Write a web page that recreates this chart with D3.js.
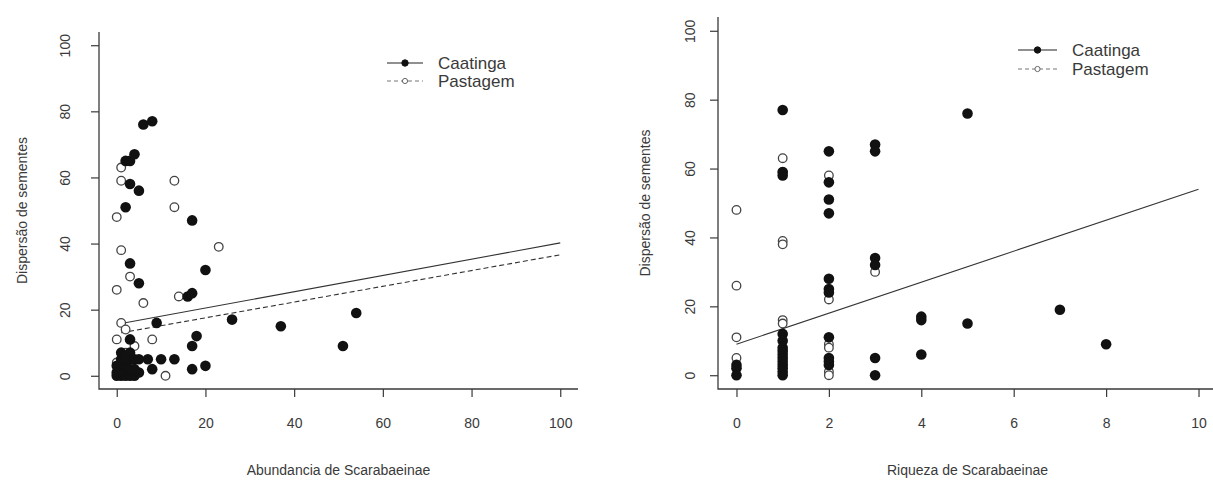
<!doctype html>
<html lang="pt">
<head>
  <meta charset="utf-8">
  <title>Dispersão de sementes</title>
  <script src="https://d3js.org/d3.v7.min.js"></script>
  <style>
    body { margin: 0; background: #fff; }
    text { font-family: "Liberation Sans", Arial, sans-serif; fill: #3a3a3a; }
  </style>
</head>
<body>
<svg width="1213" height="483"></svg>
<script>
// ---- data ----
// left panel: abundance vs seed dispersal
var abCaatX = [6, 8, 2, 3, 4, 3, 5, 2, 17, 3, 5, 20, 16, 17, 9, 26, 3, 18, 17, 7, 10, 13, 8, 17, 20, 37, 51, 54,
               0, 1, 2, 3, 4, 1, 2, 0, 1, 2, 3, 4, 5, 1, 2, 3, 3, 4, 5, 0];
var abCaatY = [76, 77, 65, 65, 67, 58, 56, 51, 47, 34, 28, 32, 24, 25, 16, 17, 11, 12, 9, 5, 5, 5, 2, 2, 3, 15, 9, 19,
               0, 0, 0, 0, 0, 2, 3, 3, 5, 5, 5, 5, 5, 7, 6, 7, 2, 2, 1, 1];
var abPastX = [1, 1, 13, 13, 0, 23, 1, 3, 0, 6, 14, 1, 2, 0, 8, 4, 11, 0, 2, 1];
var abPastY = [63, 59, 59, 51, 48, 39, 38, 30, 26, 22, 24, 16, 14, 11, 11, 9, 0, 4, 7, 2];
// right panel: richness vs seed dispersal
var riCaatX = [0, 0, 0,
               1, 1, 1, 1, 1, 1, 1, 1, 1, 1, 1, 1, 1, 1,
               2, 2, 2, 2, 2, 2, 2, 2, 2, 2, 2,
               3, 3, 3, 3, 3, 3,
               4, 4, 4, 5, 5, 7, 8];
var riCaatY = [3, 2, 0,
               77, 59, 58, 12, 10, 8, 7, 6, 5, 4, 3, 2, 1, 0,
               65, 56, 51, 47, 28, 25, 24, 11, 5, 4, 3,
               67, 65, 34, 32, 5, 0,
               17, 16, 6, 76, 15, 19, 9];
var riPastX = [0, 0, 0, 0, 1, 1, 1, 1, 1, 1, 2, 2, 2, 2, 2, 2, 3];
var riPastY = [48, 26, 11, 5, 63, 59, 39, 38, 16, 15, 58, 22, 9, 8, 1, 0, 30];
// fitted lines (end points)
var fitAbCaatX = [1, 100], fitAbCaatY = [15.8, 40.2];
var fitAbPastX = [1, 100], fitAbPastY = [13, 36.6];
var fitRiCaatX = [0, 10], fitRiCaatY = [9, 54];
var abTicks = [0, 20, 40, 60, 80, 100];
var riTicks = [0, 2, 4, 6, 8, 10];
var yTicks = [0, 20, 40, 60, 80, 100];
var series = ["Caatinga", "Pastagem"];

var svg = d3.select("svg");
var ink = "#3a3a3a";

function zip(xs, ys) { return xs.map(function(v, i) { return [v, ys[i]]; }); }

function panel(o) {
  var x = d3.scaleLinear().domain(o.xdom).range([o.left, o.right]);
  var y = d3.scaleLinear().domain([-4, 104]).range([389, o.top]);
  var g = svg.append("g");

  // L-shaped box
  g.append("path")
    .attr("d", "M" + o.left + "," + o.top + "V389H" + o.right)
    .attr("fill", "none").attr("stroke", ink).attr("stroke-width", 1.3);

  var yAxis = g.append("g").attr("transform", "translate(" + o.left + ",0)")
    .call(d3.axisLeft(y).tickValues(yTicks).tickSize(8).tickPadding(4));
  var xAxis = g.append("g").attr("transform", "translate(0,389)")
    .call(d3.axisBottom(x).tickValues(o.xticks).tickSize(8).tickPadding(21));
  [xAxis, yAxis].forEach(function(a) {
    a.select(".domain").remove();
    a.selectAll("line").attr("stroke", ink).attr("stroke-width", 1.2);
    a.selectAll("text").style("font-size", "14px").attr("fill", ink);
  });
  yAxis.selectAll("text")
    .attr("text-anchor", "middle")
    .attr("transform", "translate(" + (o.ylab - o.left) + ",0) rotate(-90)")
    .attr("x", 0).attr("y", 0).attr("dy", "0.35em");

  g.append("text").attr("x", (o.left + o.right) / 2).attr("y", 475)
    .attr("text-anchor", "middle").style("font-size", "14px").text(o.xtitle);
  g.append("text")
    .attr("transform", "translate(" + o.ytitleX + "," + ((o.top + 389) / 2) + ") rotate(-90)")
    .attr("text-anchor", "middle").attr("dy", "0.35em").style("font-size", "14px")
    .text("Dispersão de sementes");

  // fitted lines
  o.fits.forEach(function(f) {
    g.append("path").datum(zip(f.x, f.y))
      .attr("d", d3.line().x(function(d) { return x(d[0]); }).y(function(d) { return y(d[1]); }))
      .attr("fill", "none").attr("stroke", "#333").attr("stroke-width", 1.1)
      .attr("stroke-dasharray", f.dash ? "5,3" : null);
  });

  // points
  g.append("g").selectAll("circle").data(zip(o.px, o.py)).join("circle")
    .attr("cx", function(d) { return x(d[0]); }).attr("cy", function(d) { return y(d[1]); })
    .attr("r", 4.3).attr("fill", "#fff").attr("stroke", "#444").attr("stroke-width", 1.3);
  g.append("g").selectAll("circle").data(zip(o.cx, o.cy)).join("circle")
    .attr("cx", function(d) { return x(d[0]); }).attr("cy", function(d) { return y(d[1]); })
    .attr("r", 5.3).attr("fill", "#111");

  // legend
  var lg = g.append("g");
  series.forEach(function(s, i) {
    var ly = o.leg.y + i * o.leg.dy;
    lg.append("line").attr("x1", o.leg.x).attr("x2", o.leg.x + o.leg.w).attr("y1", ly).attr("y2", ly)
      .attr("stroke", i ? "#777" : "#222").attr("stroke-width", 1.2)
      .attr("stroke-dasharray", i ? "4,3" : null);
    lg.append("circle").attr("cx", o.leg.x + o.leg.w / 2).attr("cy", ly)
      .attr("r", i ? 2.6 : 3.2).attr("fill", i ? "#fff" : "#111").attr("stroke", i ? "#666" : "#111");
    lg.append("text").attr("x", o.leg.x + o.leg.w + 15).attr("y", ly).attr("dy", "0.35em")
      .style("font-size", "17px").text(s);
  });
}

panel({
  left: 99, right: 578, top: 32, xdom: [-4, 104], xticks: abTicks, ylab: 65, ytitleX: 22,
  xtitle: "Abundancia de Scarabaeinae",
  cx: abCaatX, cy: abCaatY, px: abPastX, py: abPastY,
  fits: [{x: fitAbCaatX, y: fitAbCaatY}, {x: fitAbPastX, y: fitAbPastY, dash: true}],
  leg: {x: 387, y: 63, dy: 18, w: 36}
});
panel({
  left: 718, right: 1217, top: 17, xdom: [-0.4, 10.4], xticks: riTicks, ylab: 690, ytitleX: 645,
  xtitle: "Riqueza de Scarabaeinae",
  cx: riCaatX, cy: riCaatY, px: riPastX, py: riPastY,
  fits: [{x: fitRiCaatX, y: fitRiCaatY}],
  leg: {x: 1018, y: 50, dy: 19, w: 39}
});
</script>
</body>
</html>
